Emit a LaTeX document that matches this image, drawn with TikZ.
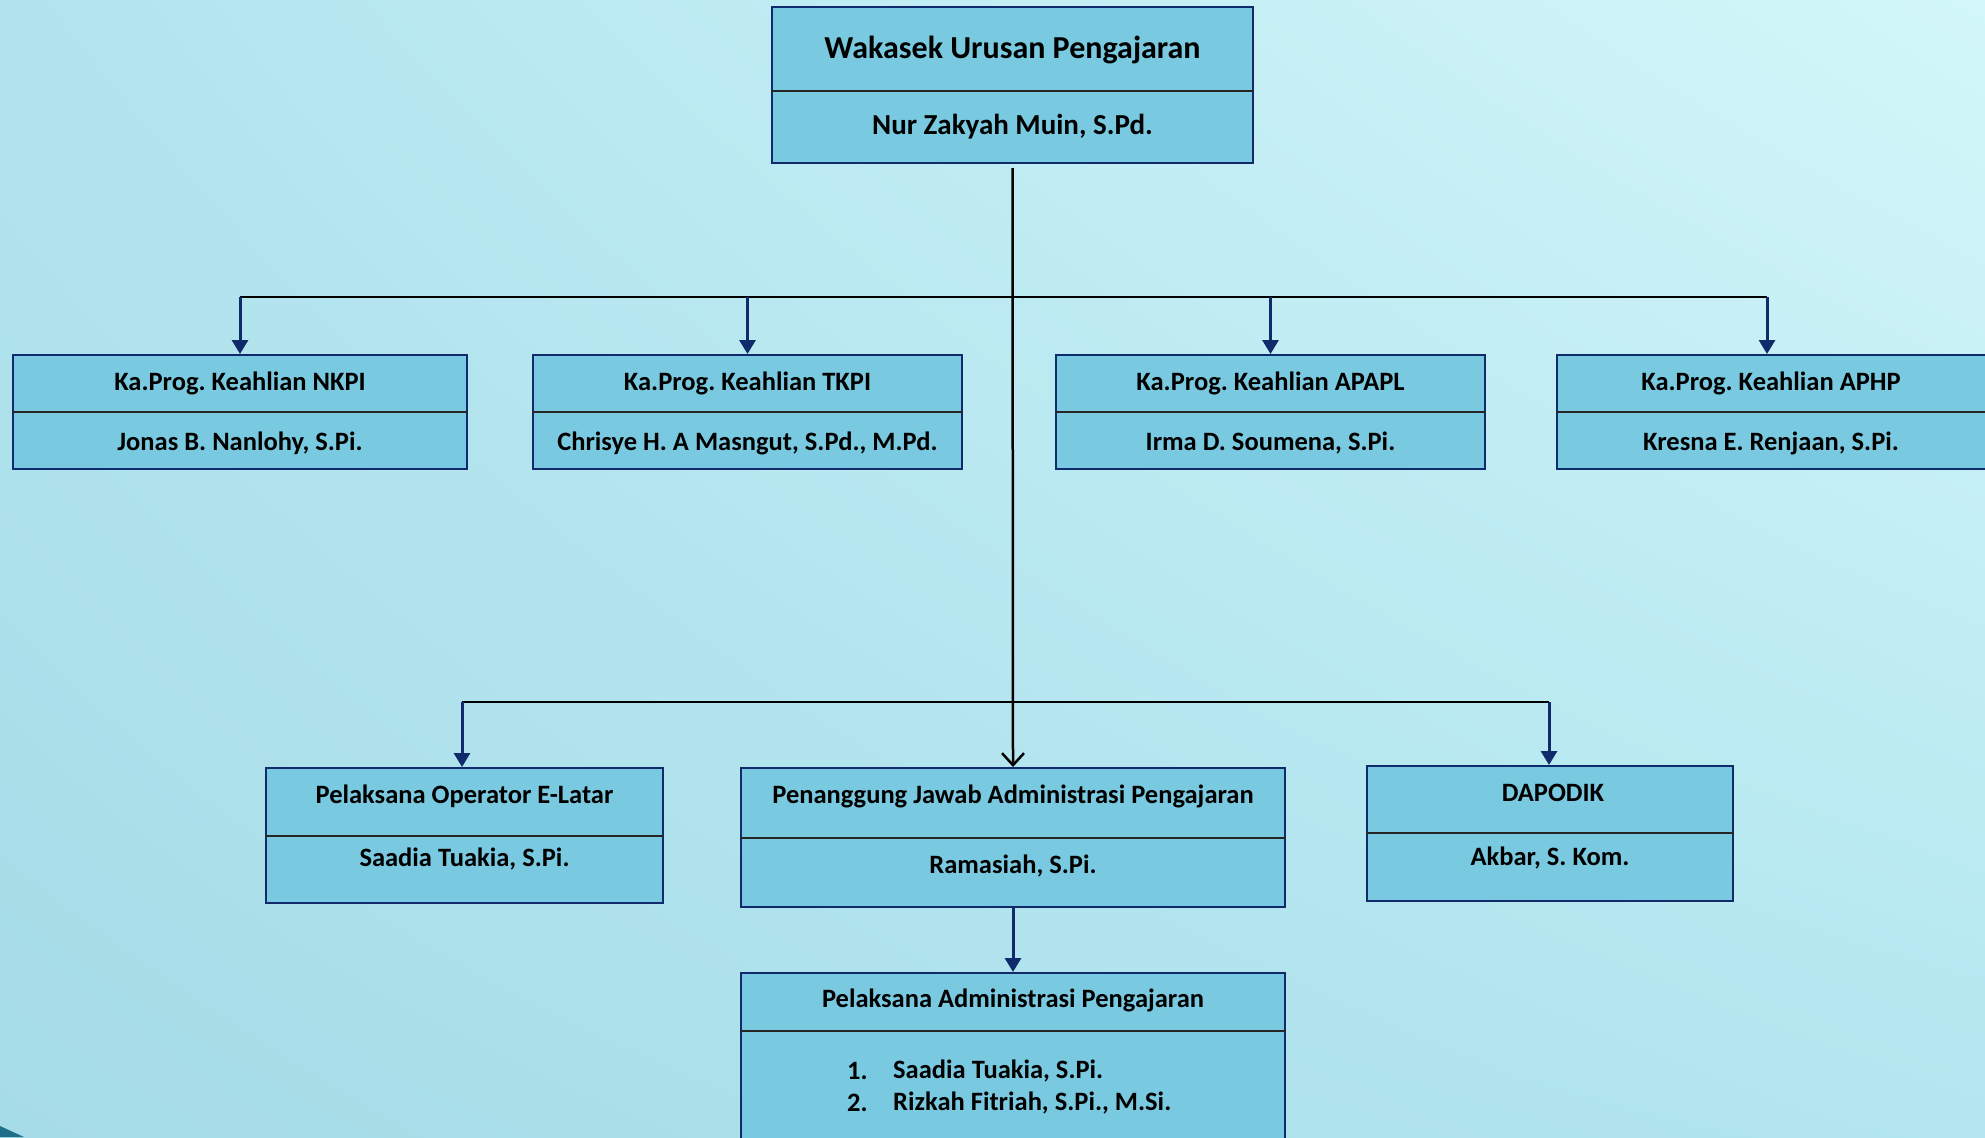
\documentclass[tikz,border=0pt]{standalone}
\usepackage{fontspec}
\setmainfont{Carlito}
\usetikzlibrary{arrows.meta,shadings}
\frenchspacing
\definecolor{boxfill}{HTML}{79C9E0}
\definecolor{boxedge}{HTML}{0F2B6B}
\definecolor{navy}{HTML}{0F2B6B}
\definecolor{bgUL}{HTML}{B2E4EE}
\definecolor{bgUR}{HTML}{D3F7FA}
\definecolor{bgLL}{HTML}{A6DCE8}
\definecolor{bgLR}{HTML}{B3E6EF}
\definecolor{cornerteal}{HTML}{1E6F8A}
\tikzset{
  orgbox/.style={draw=boxedge, fill=boxfill, line width=2pt, rectangle, inner sep=0pt},
  divider/.style={draw=black!85, line width=2pt},
  lbl/.style={font=\frenchspacing\bfseries\fontsize{26.5}{32}\selectfont, text=black, inner sep=0pt},
  toplbl/.style={font=\frenchspacing\bfseries\fontsize{32}{38}\selectfont, text=black, inner sep=0pt},
  topname/.style={font=\frenchspacing\bfseries\fontsize{29}{34}\selectfont, text=black, inner sep=0pt},
  hline/.style={draw=black, line width=2pt},
  branch/.style={draw=navy, line width=3pt, -{Triangle[length=14pt,width=16pt]}},
  centerarrow/.style={draw=black, line width=2.5pt, -{Straight Barb[length=12pt,width=22pt,line width=2.5pt]}},
}
\begin{document}
\begin{tikzpicture}[x=1pt,y=-1pt]
\useasboundingbox (0,0) rectangle (1985,1137);
\clip (0,0) rectangle (1985,1137);
\shade[upper left=bgUL, upper right=bgUR, lower left=bgLL, lower right=bgLR] (0,0) rectangle (1985,1137);
\fill[cornerteal] (0,1126) -- (24,1137) -- (0,1137) -- cycle;

% top box
\node[orgbox, minimum width=481pt, minimum height=156pt] (wakasek) at (1012.5,85) {};
\draw[divider] (wakasek.west |- 0,91) -- (wakasek.east |- 0,91);
\node[toplbl] (wakasekT) at (1012.5,50) {Wakasek Urusan Pengajaran};
\node[topname] (wakasekN) at (1012.5,127) {Nur Zakyah Muin, S.Pd.};

% row 1
\node[orgbox, minimum width=454pt, minimum height=114pt] (nkpi) at (240,412) {};
\node[orgbox, minimum width=429pt, minimum height=114pt] (tkpi) at (747.5,412) {};
\node[orgbox, minimum width=429pt, minimum height=114pt] (apapl) at (1270.5,412) {};
\node[orgbox, minimum width=433pt, minimum height=114pt] (aphp) at (1773.5,412) {};
\foreach \n in {nkpi,tkpi,apapl,aphp}{
  \draw[divider] (\n.west |- 0,412) -- (\n.east |- 0,412);
}
\node[lbl] (nkpiT) at (240,383) {Ka.Prog. Keahlian NKPI};
\node[lbl] (nkpiN) at (240,443) {Jonas B. Nanlohy, S.Pi.};
\node[lbl] (tkpiT) at (747.5,383) {Ka.Prog. Keahlian TKPI};
\node[lbl] (tkpiN) at (747.5,443) {Chrisye H. A Masngut, S.Pd., M.Pd.};
\node[lbl] (apaplT) at (1270.5,383) {Ka.Prog. Keahlian APAPL};
\node[lbl] (apaplN) at (1270.5,443) {Irma D. Soumena, S.Pi.};
\node[lbl] (aphpT) at (1771,383) {Ka.Prog. Keahlian APHP};
\node[lbl] (aphpN) at (1771,443) {Kresna E. Renjaan, S.Pi.};

% row 2
\node[orgbox, minimum width=397pt, minimum height=135pt] (elatar) at (464.5,835.5) {};
\draw[divider] (elatar.west |- 0,836) -- (elatar.east |- 0,836);
\node[lbl] (elatarT) at (464.5,796) {Pelaksana Operator E-Latar};
\node[lbl] (elatarN) at (464.5,859) {Saadia Tuakia, S.Pi.};

\node[orgbox, minimum width=544pt, minimum height=139pt] (pja) at (1013,837.5) {};
\draw[divider] (pja.west |- 0,838) -- (pja.east |- 0,838);
\node[lbl] (pjaT) at (1013,796) {Penanggung Jawab Administrasi Pengajaran};
\node[lbl] (pjaN) at (1013,866) {Ramasiah, S.Pi.};

\node[orgbox, minimum width=366pt, minimum height=135pt] (dapodik) at (1550,833.5) {};
\draw[divider] (dapodik.west |- 0,833) -- (dapodik.east |- 0,833);
\node[lbl] (dapodikT) at (1553,793) {DAPODIK};
\node[lbl] (dapodikN) at (1550,858) {Akbar, S. Kom.};

% bottom box
\node[orgbox, minimum width=544pt, minimum height=200pt] (pap) at (1013,1073) {};
\draw[divider] (pap.west |- 0,1031) -- (pap.east |- 0,1031);
\node[lbl] (papT) at (1013,1000) {Pelaksana Administrasi Pengajaran};
\node[lbl, anchor=west] (papI1n) at (847,1071) {1.};
\node[lbl, anchor=west] (papI1) at (893,1071) {Saadia Tuakia, S.Pi.};
\node[lbl, anchor=west] (papI2n) at (847,1103) {2.};
\node[lbl, anchor=west] (papI2) at (893,1103) {Rizkah Fitriah, S.Pi., M.Si.};

% connectors
\coordinate (h1L) at (240,297);
\coordinate (h1R) at (1767,297);
\draw[hline] (h1L) -- (h1R);
\draw[branch] (nkpi.north |- h1L) -- (nkpi.north);
\draw[branch] (tkpi.north |- h1L) -- (tkpi.north);
\draw[branch] (apapl.north |- h1L) -- (apapl.north);
\draw[branch] (h1R) -- (h1R |- aphp.north);

\coordinate (h2L) at (462,702);
\coordinate (h2R) at (1549,702);
\draw[hline] (h2L) -- (h2R);
\draw[branch] (h2L) -- (h2L |- elatar.north);
\draw[branch] (h2R) -- (h2R |- dapodik.north);

\draw[centerarrow] ([yshift=-4pt]wakasek.south) -- (pja.north);
\draw[branch] (pja.south) -- (pap.north);
\end{tikzpicture}
\end{document}
